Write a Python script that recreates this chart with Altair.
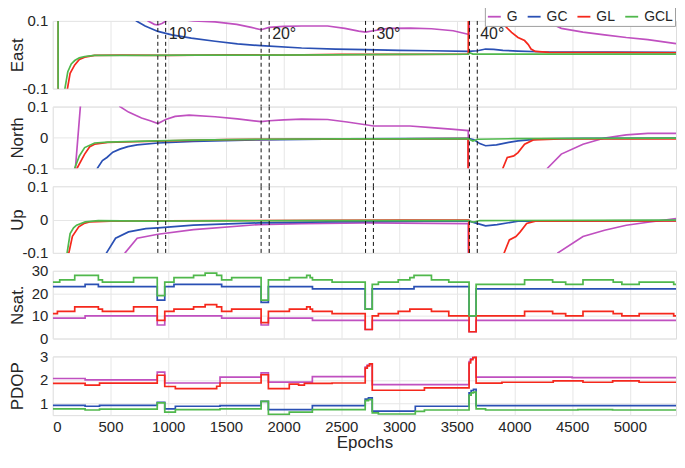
import altair as alt
import pandas as pd

FONT = "Liberation Sans"

series_names = ["G", "GC", "GL", "GCL"]
series_colors = ["#c050c0", "#2a50b4", "#f5281c", "#50b84c"]

x_ticks = [0, 500, 1000, 1500, 2000, 2500, 3000, 3500, 4000, 4500, 5000]
x_max = 5400

dashed_epochs = [910, 978, 1805, 1875, 2710, 2778, 3610, 3678]
angle_labels = ["10°", "20°", "30°", "40°"]
angle_label_epochs = [978, 1875, 2778, 3678]

# ---------------- East ----------------
east_g = [(0, 0.6), (790, 0.3), (825, 0.1), (880, 0.09), (911, 0.088), (950, 0.093), (994, 0.103),
          (1100, 0.105), (1219, 0.1), (1406, 0.097), (1594, 0.09), (1720, 0.081), (1805, 0.074),
          (1875, 0.081), (2000, 0.084), (2156, 0.085), (2381, 0.085), (2531, 0.078), (2650, 0.07),
          (2710, 0.067), (2778, 0.071), (2906, 0.078), (3100, 0.079), (3281, 0.077), (3469, 0.071),
          (3608, 0.06), (3610, 0.6), (4230, 0.6), (4275, 0.1), (4406, 0.078), (4594, 0.067),
          (4781, 0.059), (4969, 0.051), (5156, 0.045), (5400, 0.033)]
east_gc = [(0, 0.6), (690, 0.3), (724, 0.1), (800, 0.085), (911, 0.069), (1031, 0.059), (1200, 0.049),
           (1406, 0.04), (1600, 0.032), (1804, 0.027), (2156, 0.02), (2450, 0.017), (2711, 0.015),
           (3000, 0.013), (3281, 0.012), (3600, 0.01), (3680, 0.012), (3750, 0.017), (3820, 0.016),
           (3900, 0.013), (4031, 0.011), (4219, 0.009), (4800, 0.008), (5400, 0.007)]
east_gl = [(0, 0.6), (45, 0.6), (48, -0.6), (110, -0.3), (127, -0.1), (150, -0.055), (190, -0.03),
           (230, -0.014), (276, -0.007), (362, -0.002), (600, -0.001), (1000, -0.002), (1500, 0.0),
           (2000, -0.001), (2500, 0.001), (3000, 0.001), (3600, 0.002), (3604, 0.6), (3850, 0.6),
           (3881, 0.1), (3919, 0.085), (3975, 0.066), (4031, 0.051), (4088, 0.042), (4120, 0.03),
           (4144, 0.017), (4181, 0.01), (4300, 0.007), (5400, 0.006)]
east_gcl = [(0, 0.6), (45, 0.6), (47, -0.6), (90, -0.3), (105, -0.1), (130, -0.05), (160, -0.027),
            (190, -0.017), (230, -0.009), (276, -0.005), (362, -0.002), (800, -0.002), (1200, -0.001),
            (1800, -0.001), (2400, 0.0), (3000, 0.001), (3600, 0.002), (3612, 0.006), (3640, 0.002),
            (4200, 0.002), (5400, 0.002)]

# ---------------- North ----------------
north_g = [(0, -0.6), (180, -0.3), (196, -0.1), (239, 0.1), (260, 0.3), (540, 0.3), (581, 0.1),
           (656, 0.082), (769, 0.063), (844, 0.054), (911, 0.045), (978, 0.058), (1060, 0.068),
           (1181, 0.072), (1406, 0.067), (1600, 0.06), (1804, 0.051), (1875, 0.054), (2000, 0.057),
           (2156, 0.059), (2381, 0.058), (2550, 0.05), (2711, 0.041), (2779, 0.037), (3094, 0.037),
           (3281, 0.032), (3450, 0.027), (3600, 0.022), (3606, -0.6), (4250, -0.6), (4286, -0.1),
           (4406, -0.054), (4594, -0.022), (4781, -0.002), (4969, 0.008), (5156, 0.013), (5400, 0.013)]
north_gc = [(0, -0.6), (350, -0.3), (386, -0.1), (430, -0.075), (469, -0.065), (520, -0.048),
            (581, -0.038), (650, -0.03), (731, -0.024), (911, -0.018), (1219, -0.013), (1781, -0.008),
            (2531, -0.005), (3600, -0.003), (3650, -0.008), (3700, -0.02), (3750, -0.027), (3844, -0.024),
            (3950, -0.016), (4031, -0.011), (4219, -0.005), (4600, -0.003), (5400, -0.002)]
north_gl = [(0, -0.6), (190, -0.3), (210, -0.1), (276, -0.054), (320, -0.03), (362, -0.022),
            (476, -0.016), (700, -0.014), (1000, -0.011), (1500, -0.007), (2000, -0.006), (3000, -0.005),
            (3598, -0.004), (3602, -0.6), (3880, -0.6), (3900, -0.1), (3938, -0.065), (3994, -0.06),
            (4031, -0.049), (4088, -0.022), (4163, -0.008), (4400, -0.005), (5400, -0.005)]
north_gcl = [(0, -0.6), (175, -0.3), (190, -0.1), (230, -0.06), (276, -0.033), (362, -0.018),
             (476, -0.015), (800, -0.012), (1200, -0.009), (1800, -0.006), (2500, -0.005), (3000, -0.005),
             (3600, -0.004), (3640, -0.012), (3680, -0.006), (4000, -0.004), (5400, -0.002)]

# ---------------- Up ----------------
up_g = [(0, -0.6), (590, -0.3), (626, -0.1), (731, -0.056), (911, -0.044), (1219, -0.03), (1781, -0.015),
        (2156, -0.012), (2711, -0.01), (3600, -0.012), (3605, -0.6), (4340, -0.6), (4376, -0.1),
        (4594, -0.051), (4781, -0.032), (4969, -0.017), (5156, -0.008), (5400, 0.003)]
up_gc = [(0, -0.6), (430, -0.3), (465, -0.1), (544, -0.056), (656, -0.037), (806, -0.027), (911, -0.025),
         (1219, -0.017), (1781, -0.01), (2531, -0.006), (3600, -0.004), (3660, -0.01), (3750, -0.019),
         (3850, -0.015), (4031, -0.005), (5400, -0.003)]
up_gl = [(0, -0.6), (120, -0.3), (139, -0.1), (170, -0.05), (225, -0.022), (270, -0.012), (319, -0.007),
         (500, -0.005), (1500, -0.003), (3000, -0.002), (3604, -0.002), (3608, -0.6), (3890, -0.6),
         (3911, -0.1), (3956, -0.061), (4013, -0.051), (4050, -0.037), (4106, -0.012), (4181, -0.005),
         (5400, -0.004)]
up_gcl = [(0, -0.6), (105, -0.3), (124, -0.1), (150, -0.042), (180, -0.025), (206, -0.017), (281, -0.007),
          (394, -0.003), (800, -0.005), (1500, -0.004), (2200, -0.003), (3000, -0.003), (3600, -0.003),
          (3640, -0.008), (3700, -0.003), (5400, -0.002)]

# ---------------- Nsat (step) ----------------
nsat_g = [(0, 9), (280, 10), (905, 6), (970, 10), (1463, 9), (1805, 6), (1868, 9), (2250, 8), (2707, 4),
          (2768, 8), (3607, 3), (3668, 8), (5400, 8)]
nsat_gc = [(0, 23), (280, 24), (395, 23), (905, 17), (970, 23), (1050, 24), (1463, 23), (1805, 16),
           (1868, 23), (2250, 22), (2707, 13), (2768, 22), (3130, 23), (3607, 10), (3668, 22), (5400, 22)]
nsat_gl = [(0, 11), (40, 12), (190, 14), (395, 13), (430, 12), (700, 14), (905, 8), (970, 12), (1050, 13),
           (1220, 14), (1320, 15), (1420, 14), (1463, 12), (1550, 13), (1805, 7), (1868, 12), (2050, 13),
           (2200, 14), (2230, 13), (2250, 12), (2420, 11), (2707, 4), (2768, 10), (2821, 11), (2993, 12),
           (3094, 13), (3281, 12), (3431, 10), (3607, 3), (3668, 10), (4088, 12), (4331, 11), (4444, 10),
           (4594, 12), (4856, 11), (4931, 10), (5081, 11), (5380, 10), (5400, 10)]
nsat_gcl = [(0, 25), (60, 26), (190, 28), (395, 26), (430, 25), (700, 27), (905, 19), (970, 25), (1050, 27),
            (1220, 28), (1320, 29), (1420, 28), (1463, 26), (1550, 27), (1805, 17), (1868, 26), (2050, 27),
            (2200, 28), (2230, 27), (2250, 26), (2420, 25), (2707, 13), (2768, 24), (2821, 25), (2993, 26),
            (3094, 27), (3130, 28), (3281, 26), (3431, 25), (3607, 10), (3668, 24), (4088, 26), (4331, 25),
            (4444, 24), (4594, 26), (4856, 25), (4931, 24), (5081, 25), (5380, 24), (5400, 24)]

# ---------------- PDOP (step) ----------------
pdop_g = [(0, 2.06), (280, 2.0), (905, 2.33), (970, 1.87), (1449, 2.12), (1805, 2.3), (1868, 1.91),
          (2249, 2.14), (2707, 2.55), (2725, 2.63), (2745, 2.68), (2768, 1.8), (3607, 2.78), (3620, 2.9),
          (3640, 2.97), (3668, 2.12), (4500, 2.1), (5400, 2.08)]
pdop_gc = [(0, 0.92), (280, 0.88), (405, 0.92), (905, 1.05), (970, 0.77), (1062, 0.88), (1449, 0.91),
           (1805, 1.09), (1868, 0.74), (2249, 0.91), (2707, 1.18), (2735, 1.24), (2768, 0.67), (3141, 0.88),
           (3607, 1.45), (3625, 1.55), (3645, 1.6), (3668, 0.91), (5400, 0.88)]
pdop_gl = [(0, 1.85), (280, 1.78), (405, 1.86), (905, 2.2), (970, 1.72), (1062, 1.63), (1420, 1.73),
           (1449, 1.87), (1805, 2.22), (1868, 1.63), (2049, 1.82), (2130, 1.78), (2180, 1.85), (2420, 1.87),
           (2707, 2.5), (2725, 2.6), (2745, 2.68), (2768, 1.56), (3220, 1.66), (3607, 2.72), (3620, 2.86),
           (3640, 2.95), (3655, 3.0), (3668, 1.86), (3892, 1.9), (4336, 1.96), (4594, 1.9), (4851, 1.96),
           (5080, 1.9), (5400, 1.9)]
pdop_gcl = [(0, 0.77), (280, 0.72), (405, 0.76), (905, 1.02), (970, 0.63), (1062, 0.74), (1449, 0.77),
            (1805, 1.09), (1868, 0.53), (2049, 0.63), (2249, 0.74), (2707, 1.12), (2735, 1.16), (2768, 0.6),
            (2821, 0.55), (3141, 0.66), (3220, 0.72), (3607, 1.35), (3625, 1.45), (3645, 1.48), (3668, 0.77),
            (3750, 0.72), (4550, 0.74), (4850, 0.72), (5400, 0.7)]


def to_df(g, gc, gl, gcl):
    rows = []
    for name, pts in zip(series_names, [g, gc, gl, gcl]):
        for e, v in pts:
            rows.append({"epoch": e, "value": v, "series": name})
    return pd.DataFrame(rows)


W = 626
SPACING = 18
HEIGHTS = [68, 62, 67, 68, 59]
GRID = "#e6e6e6"
TXT = "#262626"

color_scale = alt.Scale(domain=series_names, range=series_colors)

legend_spec = alt.Legend(orient="none", legendX=434, legendY=-14, direction="horizontal", columns=4,
                         title=None, symbolType="stroke", symbolSize=169, symbolStrokeWidth=1.8,
                         labelFontSize=14, labelFont=FONT, labelColor=TXT, columnPadding=6, labelOffset=5,
                         fillColor="white", strokeColor="#9e9e9e", padding=2, cornerRadius=0)

pos_label_expr = "datum.value == 0 ? '0' : (datum.value < 0 ? '-' : '') + format(abs(datum.value), '.1f')"


def x_enc(bottom):
    if bottom:
        ax = alt.Axis(values=x_ticks, title="Epochs", labelFontSize=15, titleFontSize=17, grid=True,
                      gridColor=GRID, ticks=False, domain=False, labelPadding=4, titlePadding=0,
                      labelFont=FONT, titleFont=FONT, labelColor=TXT, titleColor=TXT, titleFontWeight="normal",
                      labelOverlap=False, format="d")
    else:
        ax = alt.Axis(values=x_ticks, title=None, labels=False, ticks=False, domain=False, grid=True,
                      gridColor=GRID)
    return alt.X("epoch:Q", scale=alt.Scale(domain=[0, x_max], nice=False, zero=False), axis=ax)


def panel(df, title, ydomain, yvalues, height, interp="linear", legend=False, bottom=False,
          label_expr=None, dashed=None, labels=False):
    axis_kwargs = dict(values=yvalues, title=title, titleFontSize=17, labelFontSize=15, grid=True,
                       gridColor=GRID, ticks=False, domain=False, labelPadding=5, titleX=-30,
                       titleY=height / 2, titleFont=FONT, labelFont=FONT, labelColor=TXT, titleColor=TXT,
                       titleFontWeight="normal", titleAngle=270, titleAlign="center",
                       titleBaseline="alphabetic", labelOverlap=False, labelFlush=False)
    if label_expr:
        axis_kwargs["labelExpr"] = label_expr
    y = alt.Y("value:Q", scale=alt.Scale(domain=ydomain, nice=False, zero=False), axis=alt.Axis(**axis_kwargs))
    x = x_enc(bottom)
    layers = []
    for s in series_names:
        sub = df[df["series"] == s]
        layers.append(
            alt.Chart(sub).mark_line(clip=True, interpolate=interp, strokeWidth=1.7).encode(
                x=x, y=y,
                color=alt.Color("series:N", scale=color_scale, legend=legend_spec if legend else None),
            )
        )
    if dashed is not None:
        rdf = pd.DataFrame({"epoch": dashed_epochs})
        layers.append(
            alt.Chart(rdf).mark_rule(strokeDash=[4, 3], color="#111111", strokeWidth=1, clip=False).encode(
                x=x, y=alt.value(0), y2=alt.value(dashed)
            )
        )
    if labels:
        tdf = pd.DataFrame({"epoch": angle_label_epochs, "label": angle_labels})
        layers.append(
            alt.Chart(tdf).mark_text(align="left", baseline="middle", dx=3, fontSize=16, font=FONT,
                                     color=TXT).encode(x=x, y=alt.datum(0.062), text="label:N")
        )
    return alt.layer(*layers).properties(width=W, height=height)


east = panel(to_df(east_g, east_gc, east_gl, east_gcl), "East", [-0.1, 0.1], [-0.1, 0, 0.1], HEIGHTS[0],
             legend=True, label_expr=pos_label_expr, dashed=HEIGHTS[0] + SPACING, labels=True)
north = panel(to_df(north_g, north_gc, north_gl, north_gcl), "North", [-0.1, 0.1], [-0.1, 0, 0.1],
              HEIGHTS[1], label_expr=pos_label_expr, dashed=HEIGHTS[1] + SPACING)
up = panel(to_df(up_g, up_gc, up_gl, up_gcl), "Up", [-0.1, 0.1], [-0.1, 0, 0.1], HEIGHTS[2],
           label_expr=pos_label_expr, dashed=HEIGHTS[2])
nsat = panel(to_df(nsat_g, nsat_gc, nsat_gl, nsat_gcl), "Nsat.", [0, 30], [0, 10, 20, 30], HEIGHTS[3],
             interp="step-after")
pdop = panel(to_df(pdop_g, pdop_gc, pdop_gl, pdop_gcl), "PDOP", [0.5, 3], [1, 2, 3], HEIGHTS[4],
             interp="step-after", bottom=True)

chart = (
    alt.vconcat(east, north, up, nsat, pdop, spacing=SPACING, bounds="flush")
    .resolve_scale(color="independent")
    .resolve_legend(color="independent")
    .properties(padding={"left": 0, "top": -3, "right": 0, "bottom": 0})
    .configure_view(stroke="#9e9e9e", strokeWidth=1)
    .configure(background="white")
)

chart.save("out.html", embed_options={"renderer": "svg", "actions": False})
